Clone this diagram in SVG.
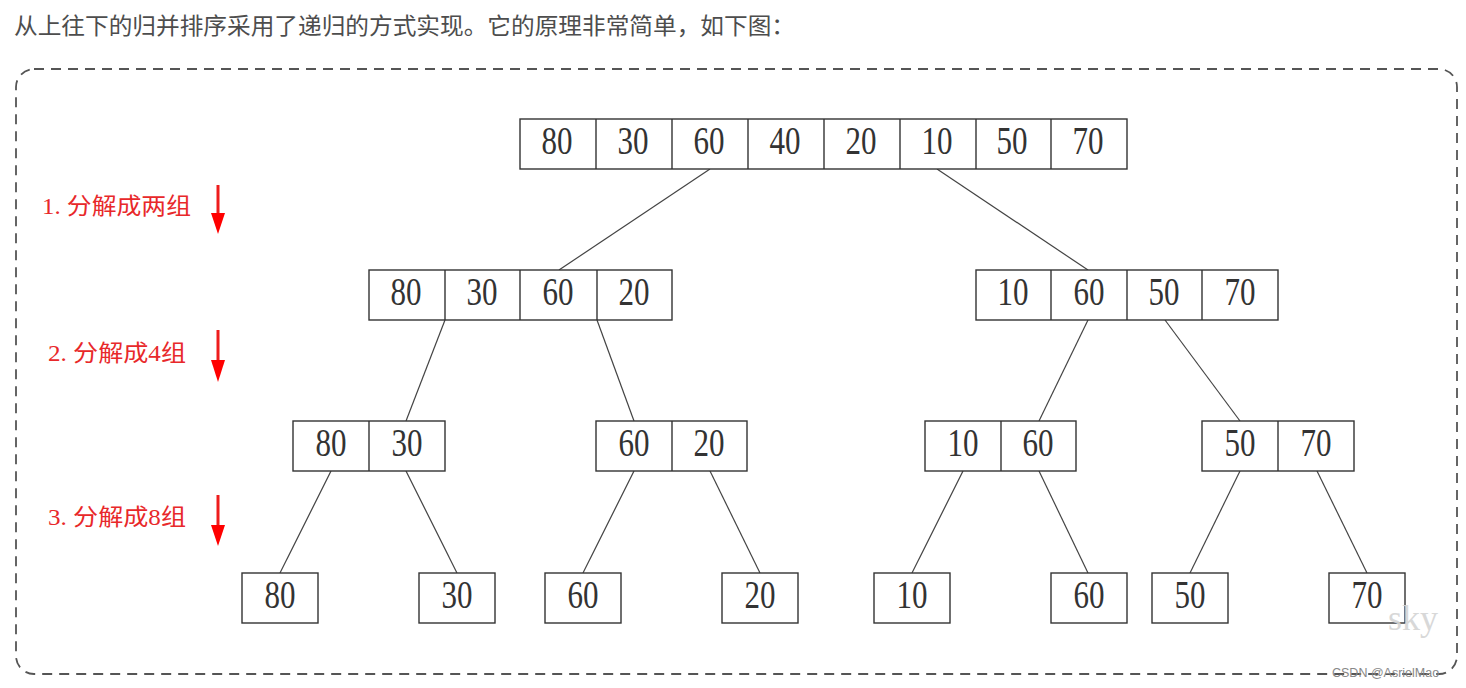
<svg xmlns="http://www.w3.org/2000/svg" width="1466" height="688" viewBox="0 0 1466 688">
<defs>
<style>
.box{fill:#fff;stroke:#333;stroke-width:1.4}
.div{stroke:#333;stroke-width:1.4}
.num{font-family:"Liberation Serif","DejaVu Serif",serif;font-size:40px;fill:#333;text-anchor:middle}
.edge{stroke:#444;stroke-width:1.2;fill:none}
.lbl{font-family:"Liberation Serif","Noto Sans CJK SC",serif;font-size:23px;fill:#e8282a}
.arr{stroke:#ee1c1c;stroke-width:3}
.head{fill:#ff0000}
</style>
</defs>
<rect width="1466" height="688" fill="#fff"/>
<text x="14" y="34" font-family="'Noto Sans CJK SC','Liberation Sans',sans-serif" font-size="23" fill="#4d4d4d" textLength="781" lengthAdjust="spacingAndGlyphs">从上往下的归并排序采用了递归的方式实现。它的原理非常简单，如下图：</text>
<rect x="16" y="69" width="1441" height="605" rx="18" ry="18" fill="none" stroke="#555" stroke-width="1.8" stroke-dasharray="10 7"/>

<g id="steps">
<text class="lbl" x="42" y="214" textLength="149" lengthAdjust="spacingAndGlyphs">1. 分解成两组</text>
<line class="arr" x1="218" y1="185" x2="218" y2="215"/>
<polygon class="head" points="211,213 225,213 218,234"/>
<text class="lbl" x="48" y="361" textLength="138" lengthAdjust="spacingAndGlyphs">2. 分解成4组</text>
<line class="arr" x1="218" y1="330" x2="218" y2="362"/>
<polygon class="head" points="211,360 225,360 218,382"/>
<text class="lbl" x="48" y="525" textLength="138" lengthAdjust="spacingAndGlyphs">3. 分解成8组</text>
<line class="arr" x1="218" y1="495" x2="218" y2="527"/>
<polygon class="head" points="211,525 225,525 218,546"/>
</g>

<g id="connectors">
<line class="edge" x1="710" y1="169" x2="559" y2="270"/>
<line class="edge" x1="937" y1="169" x2="1088" y2="270"/>
<line class="edge" x1="445" y1="320" x2="406" y2="421"/>
<line class="edge" x1="597" y1="320" x2="634" y2="421"/>
<line class="edge" x1="1088" y1="320" x2="1039" y2="421"/>
<line class="edge" x1="1165" y1="320" x2="1240" y2="421"/>
<line class="edge" x1="331" y1="471" x2="280" y2="573"/>
<line class="edge" x1="406" y1="471" x2="457" y2="573"/>
<line class="edge" x1="634" y1="471" x2="583" y2="573"/>
<line class="edge" x1="710" y1="471" x2="760" y2="573"/>
<line class="edge" x1="963" y1="471" x2="912" y2="573"/>
<line class="edge" x1="1039" y1="471" x2="1088" y2="573"/>
<line class="edge" x1="1240" y1="471" x2="1190" y2="573"/>
<line class="edge" x1="1317" y1="471" x2="1367" y2="573"/>
</g>

<g id="n-root">
<rect class="box" x="520" y="119" width="607" height="50"/>
<line class="div" x1="596" y1="119" x2="596" y2="169"/>
<line class="div" x1="672" y1="119" x2="672" y2="169"/>
<line class="div" x1="748" y1="119" x2="748" y2="169" stroke-width="2"/>
<line class="div" x1="824" y1="119" x2="824" y2="169"/>
<line class="div" x1="900" y1="119" x2="900" y2="169" stroke-width="2"/>
<line class="div" x1="976" y1="119" x2="976" y2="169"/>
<line class="div" x1="1051" y1="119" x2="1051" y2="169"/>
<text class="num" x="557" y="154" textLength="31" lengthAdjust="spacingAndGlyphs">80</text>
<text class="num" x="633" y="154" textLength="31" lengthAdjust="spacingAndGlyphs">30</text>
<text class="num" x="709" y="154" textLength="31" lengthAdjust="spacingAndGlyphs">60</text>
<text class="num" x="785" y="154" textLength="31" lengthAdjust="spacingAndGlyphs">40</text>
<text class="num" x="861" y="154" textLength="31" lengthAdjust="spacingAndGlyphs">20</text>
<text class="num" x="937" y="154" textLength="31" lengthAdjust="spacingAndGlyphs">10</text>
<text class="num" x="1012" y="154" textLength="31" lengthAdjust="spacingAndGlyphs">50</text>
<text class="num" x="1088" y="154" textLength="31" lengthAdjust="spacingAndGlyphs">70</text>
</g>

<g id="n-left2">
<rect class="box" x="369" y="270" width="303" height="50"/>
<line class="div" x1="445" y1="270" x2="445" y2="320"/>
<line class="div" x1="520" y1="270" x2="520" y2="320"/>
<line class="div" x1="597" y1="270" x2="597" y2="320" stroke-width="2"/>
<text class="num" x="406" y="305" textLength="31" lengthAdjust="spacingAndGlyphs">80</text>
<text class="num" x="482" y="305" textLength="31" lengthAdjust="spacingAndGlyphs">30</text>
<text class="num" x="558" y="305" textLength="31" lengthAdjust="spacingAndGlyphs">60</text>
<text class="num" x="634" y="305" textLength="31" lengthAdjust="spacingAndGlyphs">20</text>
</g>

<g id="n-right2">
<rect class="box" x="976" y="270" width="302" height="50"/>
<line class="div" x1="1051" y1="270" x2="1051" y2="320" stroke-width="2"/>
<line class="div" x1="1127" y1="270" x2="1127" y2="320"/>
<line class="div" x1="1202" y1="270" x2="1202" y2="320"/>
<text class="num" x="1013" y="305" textLength="31" lengthAdjust="spacingAndGlyphs">10</text>
<text class="num" x="1089" y="305" textLength="31" lengthAdjust="spacingAndGlyphs">60</text>
<text class="num" x="1164" y="305" textLength="31" lengthAdjust="spacingAndGlyphs">50</text>
<text class="num" x="1240" y="305" textLength="31" lengthAdjust="spacingAndGlyphs">70</text>
</g>

<g id="n-l3a">
<rect class="box" x="293" y="421" width="152" height="50"/>
<line class="div" x1="369" y1="421" x2="369" y2="471"/>
<text class="num" x="331" y="456" textLength="31" lengthAdjust="spacingAndGlyphs">80</text>
<text class="num" x="407" y="456" textLength="31" lengthAdjust="spacingAndGlyphs">30</text>
</g>
<g id="n-l3b">
<rect class="box" x="596" y="421" width="151" height="50"/>
<line class="div" x1="672" y1="421" x2="672" y2="471" stroke-width="2"/>
<text class="num" x="634" y="456" textLength="31" lengthAdjust="spacingAndGlyphs">60</text>
<text class="num" x="709" y="456" textLength="31" lengthAdjust="spacingAndGlyphs">20</text>
</g>
<g id="n-l3c">
<rect class="box" x="925" y="421" width="151" height="50"/>
<line class="div" x1="1001" y1="421" x2="1001" y2="471" stroke-width="2"/>
<text class="num" x="963" y="456" textLength="31" lengthAdjust="spacingAndGlyphs">10</text>
<text class="num" x="1038" y="456" textLength="31" lengthAdjust="spacingAndGlyphs">60</text>
</g>
<g id="n-l3d">
<rect class="box" x="1202" y="421" width="152" height="50"/>
<line class="div" x1="1278" y1="421" x2="1278" y2="471"/>
<text class="num" x="1240" y="456" textLength="31" lengthAdjust="spacingAndGlyphs">50</text>
<text class="num" x="1316" y="456" textLength="31" lengthAdjust="spacingAndGlyphs">70</text>
</g>

<g id="n-leaf1"><rect class="box" x="242" y="573" width="76" height="50"/><text class="num" x="280" y="608" textLength="31" lengthAdjust="spacingAndGlyphs">80</text></g>
<g id="n-leaf2"><rect class="box" x="419" y="573" width="76" height="50"/><text class="num" x="457" y="608" textLength="31" lengthAdjust="spacingAndGlyphs">30</text></g>
<g id="n-leaf3"><rect class="box" x="545" y="573" width="76" height="50"/><text class="num" x="583" y="608" textLength="31" lengthAdjust="spacingAndGlyphs">60</text></g>
<g id="n-leaf4"><rect class="box" x="722" y="573" width="76" height="50"/><text class="num" x="760" y="608" textLength="31" lengthAdjust="spacingAndGlyphs">20</text></g>
<g id="n-leaf5"><rect class="box" x="874" y="573" width="76" height="50"/><text class="num" x="912" y="608" textLength="31" lengthAdjust="spacingAndGlyphs">10</text></g>
<g id="n-leaf6"><rect class="box" x="1051" y="573" width="76" height="50"/><text class="num" x="1089" y="608" textLength="31" lengthAdjust="spacingAndGlyphs">60</text></g>
<g id="n-leaf7"><rect class="box" x="1152" y="573" width="76" height="50"/><text class="num" x="1190" y="608" textLength="31" lengthAdjust="spacingAndGlyphs">50</text></g>
<g id="n-leaf8"><rect class="box" x="1329" y="573" width="76" height="50"/><text class="num" x="1367" y="608" textLength="31" lengthAdjust="spacingAndGlyphs">70</text></g>

<text x="1388" y="630" font-family="'Liberation Serif',serif" font-size="36" fill="#d4d4d4" opacity="0.9">sky</text>
<text x="1332" y="677" font-family="'Liberation Sans',sans-serif" font-size="12.5" fill="#888">CSDN @AsrielMao</text>
</svg>
